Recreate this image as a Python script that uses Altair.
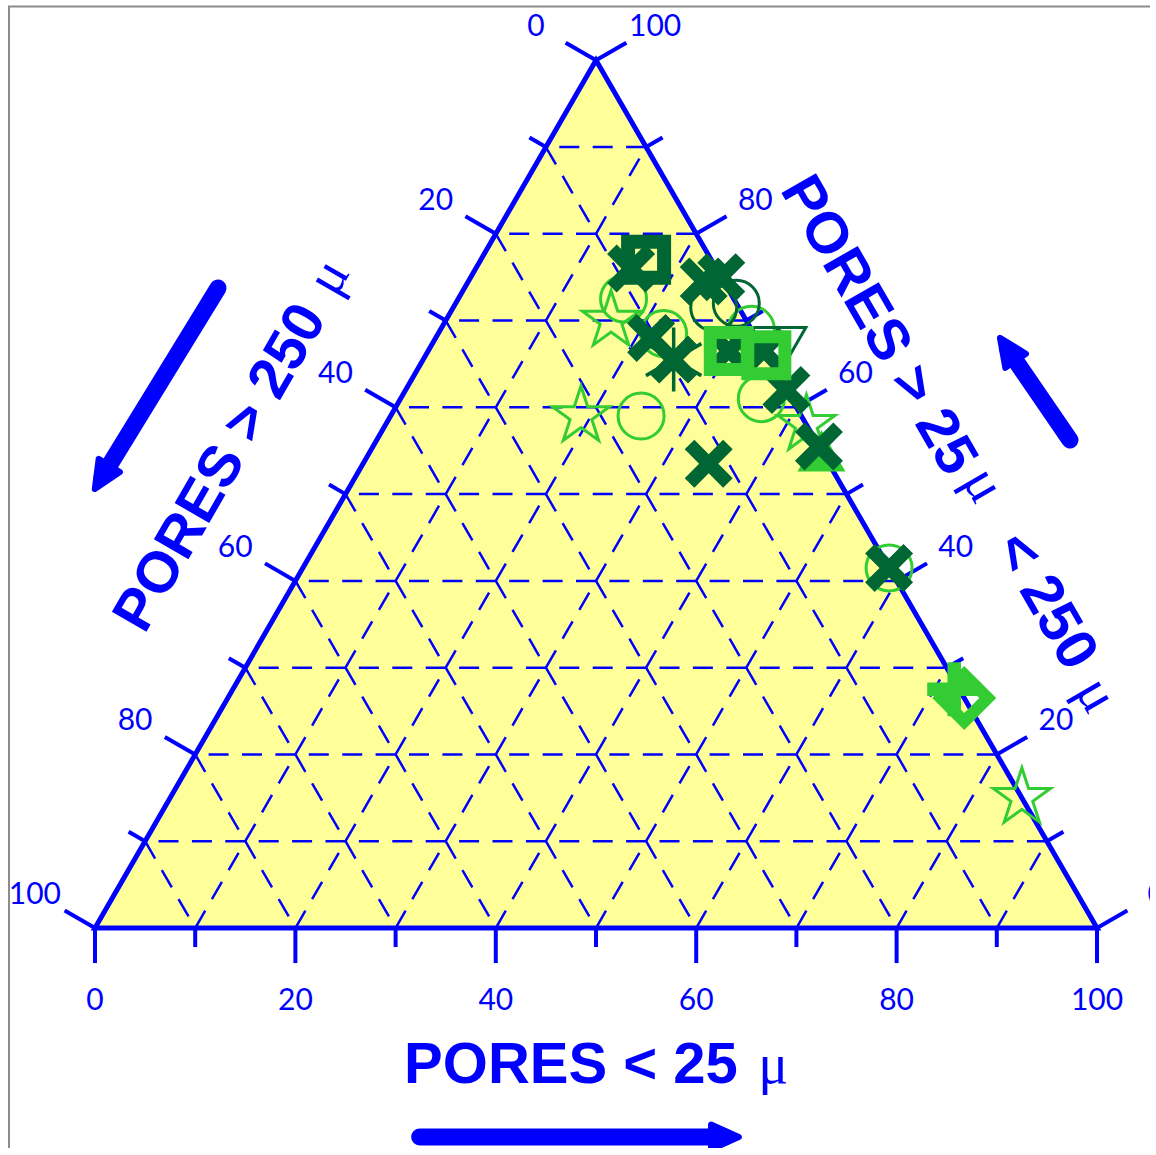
import math

import altair as alt
import pandas as pd

# Sample compositions, percent of total porosity.
# fine = pores < 25 µ, meso = pores 25–250 µ; pores > 250 µ make up the rest.
cross_fine = [15.5, 23.5, 25.0, 21.5, 25.0, 30.0, 33.5, 38.0, 44.5, 34.5, 58.5]
cross_meso = [76.0, 74.5, 75.0, 68.0, 65.5, 66.5, 66.5, 62.0, 55.5, 53.5, 41.5]

dsquare_fine = [16.5]
dsquare_meso = [77.0]

dcircle_fine = [26.0, 28.0]
dcircle_meso = [71.5, 72.0]

dtriangle_fine = [35.0]
dtriangle_meso = [66.5]

asterisk_fine = [25.0]
asterisk_meso = [65.5]

circle_fine = [16.5, 22.5, 25.0, 36.0, 58.5, 31.0]
circle_meso = [72.5, 68.5, 59.0, 61.0, 41.5, 69.0]

star_fine = [16.5, 19.0, 42.0, 85.0]
star_meso = [70.0, 59.0, 58.0, 15.0]

square_fine = [30.0, 34.0]
square_meso = [66.5, 66.0]

triangle_fine = [45.0]
triangle_meso = [55.0]

diamond_fine = [73.5]
diamond_meso = [26.5]

plus_fine = [72.0]
plus_meso = [27.5]

tick_steps = list(range(0, 101, 10))
tick_labels = [0, 20, 40, 60, 80, 100]

# ---------------------------------------------------------------- layout
W, H = 1150, 1148
PX_PER_UNIT = 10.02
ORIGIN = (95.0, 928.0)          # where the 100 % > 250 µ corner sits
X_DOM = [-ORIGIN[0] / PX_PER_UNIT, (W - ORIGIN[0]) / PX_PER_UNIT]
Y_DOM = [(ORIGIN[1] - H) / PX_PER_UNIT, ORIGIN[1] / PX_PER_UNIT]
SQ3 = math.sqrt(3) / 2

BLUE = "#0000ff"
YELLOW = "#ffff99"
DARK = "#006633"
LIGHT = "#33cc33"
FRAME = "#8c8c8c"
NUM_FONT = "Lato"
TITLE_FONT = "Liberation Sans"
MU_FONT = "Liberation Serif"

xscale = alt.Scale(domain=X_DOM, nice=False, zero=False)
yscale = alt.Scale(domain=Y_DOM, nice=False, zero=False)
X = alt.X("x:Q", scale=xscale, axis=None)
Y = alt.Y("y:Q", scale=yscale, axis=None)


def xy(fine, meso):
    """Ternary composition -> cartesian plot units."""
    return fine + meso / 2.0, meso * SQ3


def points_df(fine, meso):
    pts = [xy(f, m) for f, m in zip(fine, meso)]
    return pd.DataFrame({"x": [p[0] for p in pts], "y": [p[1] for p in pts],
                         "coarse": [100 - f - m for f, m in zip(fine, meso)]})


def segs(rows, **mark):
    return alt.Chart(pd.DataFrame(rows)).mark_rule(**mark).encode(
        x=X, y=Y, x2="x2:Q", y2="y2:Q")


def text_layer(rows, **mark):
    base = dict(color=BLUE, align="center", baseline="middle")
    base.update(mark)
    return alt.Chart(pd.DataFrame(rows)).mark_text(**base).encode(
        x=X, y=Y, text="label:N")


# ---------------------------------------------------------------- symbols
def star_path(inner=0.382):
    pts = []
    for i in range(10):
        r = 1.0 if i % 2 == 0 else inner
        a = math.radians(-90 + 36 * i)
        pts.append((r * math.cos(a), r * math.sin(a)))
    return "M" + " L".join(f"{px:.4f} {py:.4f}" for px, py in pts) + " Z"


X_PATH = ("M-1 -0.6 L-0.6 -1 L0 -0.4 L0.6 -1 L1 -0.6 L0.4 0 L1 0.6 L0.6 1 "
          "L0 0.4 L-0.6 1 L-1 0.6 L-0.4 0 Z")
PLUS_PATH = ("M-0.25 -1 L0.25 -1 L0.25 -0.25 L1 -0.25 L1 0.25 L0.25 0.25 "
             "L0.25 1 L-0.25 1 L-0.25 0.25 L-1 0.25 L-1 -0.25 L-0.25 -0.25 Z")
ASTERISK_PATH = ("M0 -1 L0 1 M-0.866 -0.5 L0.866 0.5 M-0.866 0.5 L0.866 -0.5")
HEAD_PATH = "M1 0 L-1 -0.9 L-1 0.9 Z"
STAR_PATH = star_path()


def markers(fine, meso, **mark):
    base = dict(opacity=1)
    base.update(mark)
    return alt.Chart(points_df(fine, meso)).mark_point(**base).encode(x=X, y=Y)


# ---------------------------------------------------------------- frame
frame_top = alt.Chart(pd.DataFrame({"k": [0]})).mark_rule(
    color=FRAME, strokeWidth=2).encode(
    x=alt.value(8), x2=alt.value(W), y=alt.value(6.5), y2=alt.value(6.5))
frame_left = alt.Chart(pd.DataFrame({"k": [0]})).mark_rule(
    color=FRAME, strokeWidth=2).encode(
    x=alt.value(9), x2=alt.value(9), y=alt.value(6), y2=alt.value(H))

# ---------------------------------------------------------------- triangle
corners = [xy(0, 0), xy(0, 100), xy(100, 0)]
fill = alt.Chart(pd.DataFrame({
    "x": [c[0] for c in corners], "y": [c[1] for c in corners], "y0": [0, 0, 0]
})).mark_area(color=YELLOW, opacity=1, interpolate="linear").encode(
    x=X, y=Y, y2="y0:Q")

grid_rows = []
for k in range(10, 100, 10):
    for a, b in [
        (xy(100 - k, k), xy(0, k)),        # constant 25–250 µ
        (xy(k, 0), xy(k, 100 - k)),        # constant < 25 µ
        (xy(0, 100 - k), xy(100 - k, 0)),  # constant > 250 µ
    ]:
        grid_rows.append({"x": a[0], "y": a[1], "x2": b[0], "y2": b[1]})
grid = segs(grid_rows, color=BLUE, strokeWidth=2.5, strokeDash=[20, 13.4])

outline_pts = [xy(0, 0), xy(100, 0), xy(0, 100), xy(0, 0), xy(100, 0)]
outline = alt.Chart(pd.DataFrame({
    "x": [p[0] for p in outline_pts], "y": [p[1] for p in outline_pts],
    "i": list(range(len(outline_pts)))
})).mark_line(color=BLUE, strokeWidth=5, strokeJoin="miter").encode(
    x=X, y=Y, order="i:Q")

MAJOR, MINOR = 3.5, 1.9
tick_rows = []
for t in tick_steps:
    L = MAJOR if t % 20 == 0 else MINOR
    x0, y0 = xy(t, 0)
    tick_rows.append({"x": x0, "y": y0, "x2": x0, "y2": y0 - L})
    x0, y0 = xy(0, 100 - t)
    tick_rows.append({"x": x0, "y": y0, "x2": x0 - L * SQ3, "y2": y0 + L / 2})
    x0, y0 = xy(100 - t, t)
    tick_rows.append({"x": x0, "y": y0, "x2": x0 + L * SQ3, "y2": y0 + L / 2})
ticks = segs(tick_rows, color=BLUE, strokeWidth=4)

lab_rows = []
for t in tick_labels:
    x0, y0 = xy(t, 0)
    lab_rows.append({"x": x0, "y": y0 - 7.3, "label": str(t)})
    x0, y0 = xy(0, 100 - t)
    lab_rows.append({"x": x0 - 6.0, "y": y0 + 3.3, "label": str(t)})
    x0, y0 = xy(100 - t, t)
    lab_rows.append({"x": x0 + 5.9, "y": y0 + 3.3, "label": str(t)})
tick_text = text_layer(lab_rows, font=NUM_FONT, fontSize=30)

# ---------------------------------------------------------------- titles
TFS, MFS = 58, 56
titles = [
    text_layer([{"x": 47.5, "y": -13.8, "label": "PORES < 25"}],
               font=TITLE_FONT, fontSize=TFS, fontWeight="bold"),
    text_layer([{"x": 67.7, "y": -13.8, "label": "μ"}], font=MU_FONT, fontSize=MFS),
    text_layer([{"x": 12.6, "y": 45.9, "label": "PORES > 250"}],
               font=TITLE_FONT, fontSize=TFS, fontWeight="bold", angle=300),
    text_layer([{"x": 23.3, "y": 65.0, "label": "μ"}], font=MU_FONT, fontSize=MFS,
               angle=300),
    text_layer([{"x": 78.1, "y": 60.1, "label": "PORES > 25"}],
               font=TITLE_FONT, fontSize=TFS, fontWeight="bold", angle=60),
    text_layer([{"x": 88.7, "y": 44.2, "label": "μ"}], font=MU_FONT, fontSize=MFS,
               angle=60),
    text_layer([{"x": 94.8, "y": 32.6, "label": "< 250"}],
               font=TITLE_FONT, fontSize=TFS, fontWeight="bold", angle=60),
    text_layer([{"x": 99.95, "y": 23.25, "label": "μ"}], font=MU_FONT, fontSize=MFS,
               angle=60),
]

# ---------------------------------------------------------------- arrows
arrow_defs = [((32.4, -20.86), (64.6, -20.86)),
              ((12.28, 63.87), (-0.2, 43.51)),
              ((97.3, 48.7), (90.12, 59.18))]
arrows = []
for (tx, ty), (hx, hy) in arrow_defs:
    du, dv = hx - tx, hy - ty
    n = math.hypot(du, dv)
    du, dv = du / n, dv / n
    cx, cy = hx - 1.73 * du, hy - 1.73 * dv
    ang = math.degrees(math.atan2(-dv, du)) % 360
    arrows.append(segs([{"x": tx, "y": ty, "x2": cx, "y2": cy}], color=BLUE,
                       strokeWidth=17, strokeCap="round"))
    arrows.append(alt.Chart(pd.DataFrame({"x": [cx], "y": [cy]})).mark_point(
        shape=HEAD_PATH, size=773, filled=True, opacity=1, color=BLUE,
        stroke=BLUE, strokeWidth=6, strokeJoin="round", angle=ang).encode(x=X, y=Y))

# ---------------------------------------------------------------- samples
samples = [
    markers(circle_fine, circle_meso, shape="circle", size=2116, filled=False,
            color=LIGHT, strokeWidth=3),
    markers(star_fine, star_meso, shape=STAR_PATH, size=3600, filled=False,
            color=LIGHT, strokeWidth=3),
    markers(dsquare_fine, dsquare_meso, shape="square", size=1296, filled=False,
            color=DARK, strokeWidth=14),
    markers(dcircle_fine, dcircle_meso, shape="circle", size=2116, filled=False,
            color=DARK, strokeWidth=3),
    markers(triangle_fine, triangle_meso, shape="triangle-up", size=2304,
            filled=True, color=LIGHT),
    markers(dtriangle_fine, dtriangle_meso, shape="triangle-down", size=2916,
            filled=False, color=DARK, strokeWidth=3),
    markers(asterisk_fine, asterisk_meso, shape=ASTERISK_PATH, size=4096,
            filled=False, color=DARK, strokeWidth=3.5),
    markers(cross_fine, cross_meso, shape=X_PATH, size=2304, filled=True,
            color=DARK),
    markers(square_fine, square_meso, shape="square", size=1369, filled=False,
            color=LIGHT, strokeWidth=13),
    markers(diamond_fine, diamond_meso, shape="diamond", size=2209, filled=False,
            color=LIGHT, strokeWidth=12),
    markers(plus_fine, plus_meso, shape=PLUS_PATH, size=2916, filled=True,
            color=LIGHT),
]

chart = alt.layer(
    frame_top, frame_left, fill, grid, outline, ticks, tick_text,
    *titles, *arrows, *samples,
).properties(
    width=W, height=H, padding=0,
    autosize=alt.AutoSizeParams(type="none"),
    background="white",
).configure_view(stroke="transparent")

chart.save("out.html", embed_options={"renderer": "svg", "actions": False})
